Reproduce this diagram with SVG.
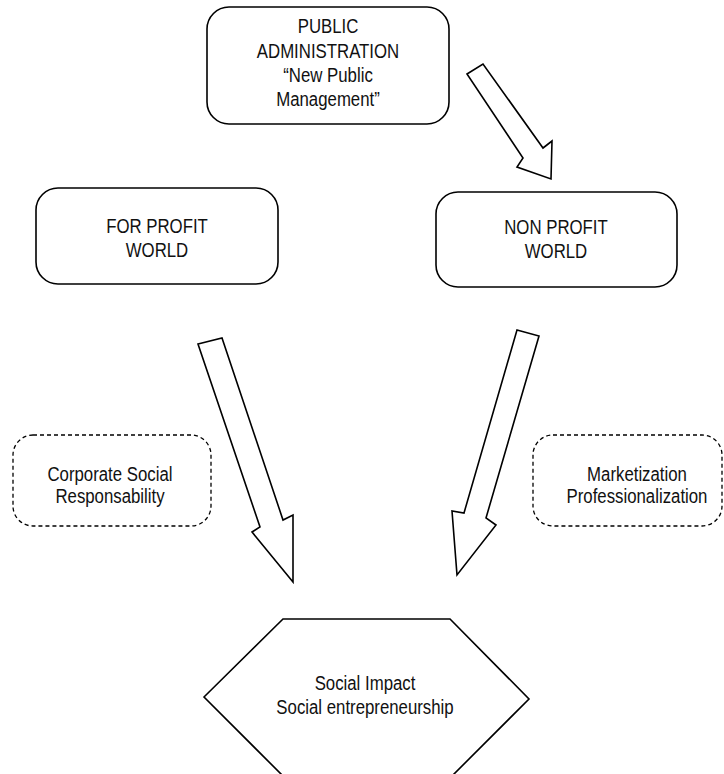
<svg xmlns="http://www.w3.org/2000/svg" width="724" height="774" viewBox="0 0 724 774">
  <style>
    .box { fill: #fff; stroke: #000; stroke-width: 1.6; }
    .dash { fill: #fff; stroke: #000; stroke-width: 1.3; stroke-dasharray: 4 3; }
    .arrow { fill: #fff; stroke: #000; stroke-width: 1.6; stroke-linejoin: miter; }
    .lbl { font-family: "Liberation Sans", Arial, sans-serif; font-size: 21px; fill: #111; text-anchor: middle; }
  </style>

  <rect width="724" height="774" fill="#fff"/>

  <!-- block arrows -->
  <g id="connectors">
    <polygon class="arrow" points="467,74 483,64 543,148 552,141 551,179 517,167 523,158"/>
    <polygon class="arrow" points="198,344 222,338 283,520 293,515 293,582 252,532 260,527"/>
    <polygon class="arrow" points="517,330 539,336 486,518 496,525 457,575 452,511 464,513"/>
  </g>

  <g id="public-administration">
    <rect class="box" x="207" y="7" width="242" height="117" rx="22"/>
    <text class="lbl" transform="translate(328,33) scale(0.8,1)">PUBLIC</text>
    <text class="lbl" transform="translate(328,58) scale(0.8,1)">ADMINISTRATION</text>
    <text class="lbl" transform="translate(328,82) scale(0.8,1)">“New Public</text>
    <text class="lbl" transform="translate(328,106) scale(0.8,1)">Management”</text>
  </g>

  <g id="for-profit">
    <rect class="box" x="36" y="188" width="242" height="96" rx="22"/>
    <text class="lbl" transform="translate(157,233) scale(0.8,1)">FOR PROFIT</text>
    <text class="lbl" transform="translate(157,257) scale(0.8,1)">WORLD</text>
  </g>

  <g id="non-profit">
    <rect class="box" x="436" y="192" width="241" height="95" rx="22"/>
    <text class="lbl" transform="translate(556,234) scale(0.8,1)">NON PROFIT</text>
    <text class="lbl" transform="translate(556,258) scale(0.8,1)">WORLD</text>
  </g>

  <g id="csr">
    <rect class="dash" x="13" y="435" width="198" height="91" rx="20"/>
    <text class="lbl" transform="translate(110,481) scale(0.8,1)">Corporate Social</text>
    <text class="lbl" transform="translate(110,503) scale(0.8,1)">Responsability</text>
  </g>

  <g id="marketization">
    <rect class="dash" x="533" y="435" width="189" height="91" rx="20"/>
    <text class="lbl" transform="translate(637,481) scale(0.8,1)">Marketization</text>
    <text class="lbl" transform="translate(637,503) scale(0.8,1)">Professionalization</text>
  </g>

  <g id="social-impact">
    <polygon class="box" points="204,697 283,619 450,619 529,699 452,776 283,776"/>
    <text class="lbl" transform="translate(365,690) scale(0.8,1)">Social Impact</text>
    <text class="lbl" transform="translate(365,714) scale(0.8,1)">Social entrepreneurship</text>
  </g>
</svg>
